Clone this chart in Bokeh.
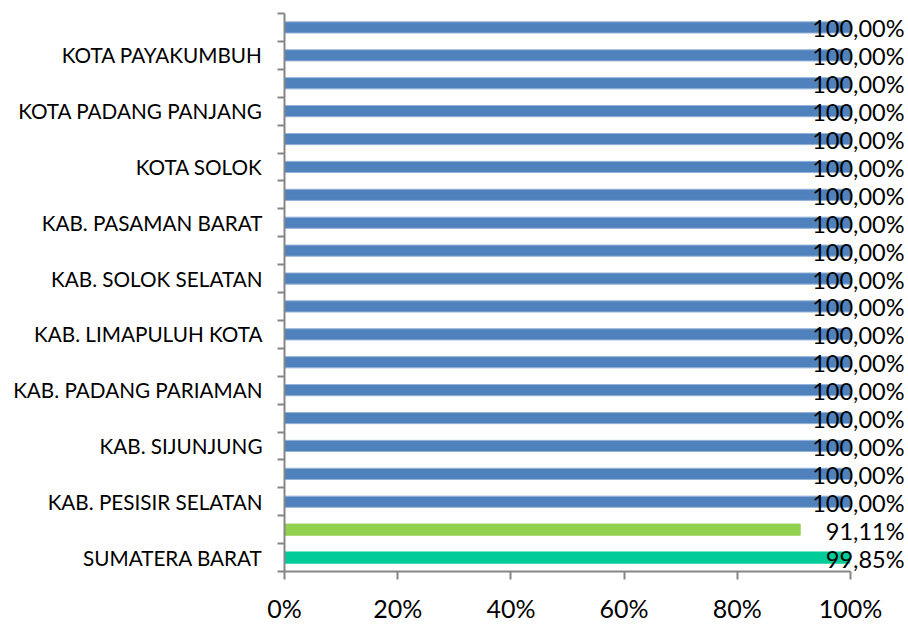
from bokeh.plotting import figure
from bokeh.models import ColumnDataSource, Range1d, FixedTicker, NumeralTickFormatter
from bokeh.core.properties import value
from bokeh.embed import file_html
from bokeh.resources import INLINE

# Data (bottom to top)
regions = [
    "SUMATERA BARAT", "KAB. KEPULAUAN MENTAWAI", "KAB. PESISIR SELATAN", "KAB. SOLOK",
    "KAB. SIJUNJUNG", "KAB. TANAH DATAR", "KAB. PADANG PARIAMAN", "KAB. AGAM",
    "KAB. LIMAPULUH KOTA", "KAB. PASAMAN", "KAB. SOLOK SELATAN", "KAB. DHARMASRAYA",
    "KAB. PASAMAN BARAT", "KOTA PADANG", "KOTA SOLOK", "KOTA SAWAHLUNTO",
    "KOTA PADANG PANJANG", "KOTA BUKITTINGGI", "KOTA PAYAKUMBUH", "KOTA PARIAMAN",
]
percent = [99.85, 91.11] + [100.0] * 18
bar_colors = ["#00CC99", "#92D050"] + ["#4F81BD"] * 18
line_colors = ["#00CC99", "#92D050"] + ["#95B3D7"] * 18
shown_label_index = list(range(0, 20, 2))
x_ticks = [0.0, 0.2, 0.4, 0.6, 0.8, 1.0]

FONT = "Lato"
n = len(regions)
ys = list(range(n))
fr = [v / 100.0 for v in percent]
x_end = (905 - 284) / 566

src = ColumnDataSource(dict(
    y=ys, x=fr, color=bar_colors, lc=line_colors,
    lab=[f"{v:.2f}".replace(".", ",") + "%" for v in percent],
    lx=[x_end] * n,
))

p = figure(width=908, height=625, output_backend="svg", toolbar_location=None,
           x_range=Range1d(0, x_end), y_range=Range1d(-0.5, n - 0.5),
           min_border_left=284, min_border_right=3, min_border_top=13, min_border_bottom=48)
p.outline_line_color = None
p.xgrid.grid_line_color = None
p.ygrid.grid_line_color = None

p.hbar(y="y", left=0, right="x", height=0.4, fill_color="color", line_color="lc",
       line_width=1, source=src)
p.text(x="lx", y="y", text="lab", source=src, text_align="right", text_baseline="middle",
       x_offset=-1, y_offset=1, text_font=value(FONT), text_font_size="23.5px",
       text_color="#000000")

# y axis
ya = p.yaxis[0]
ya.ticker = FixedTicker(ticks=[float(i) for i in shown_label_index],
                        minor_ticks=[i - 0.5 for i in range(n + 1)])
ya.major_label_overrides = {float(i): regions[i] for i in shown_label_index}
ya.major_tick_out = 0
ya.major_tick_in = 0
ya.minor_tick_out = 7
ya.minor_tick_in = 0
ya.minor_tick_line_color = "#868686"
ya.axis_line_color = "#868686"
ya.axis_line_width = 2
ya.minor_tick_line_width = 2
ya.major_label_standoff = 15
ya.major_label_text_font = FONT
ya.major_label_text_font_size = "20.7px"
ya.major_label_text_color = "#000000"

# x axis
xa = p.xaxis[0]
xa.ticker = FixedTicker(ticks=x_ticks, minor_ticks=[])
xa.formatter = NumeralTickFormatter(format="0%")
xa.bounds = (0, 1)
xa.axis_line_color = "#868686"
xa.axis_line_width = 2
xa.major_tick_line_color = "#868686"
xa.major_tick_line_width = 2
xa.major_tick_out = 8
xa.major_tick_in = 0
xa.minor_tick_line_color = None
xa.major_label_standoff = 13
xa.major_label_text_font = FONT
xa.major_label_text_font_size = "25px"
xa.major_label_text_color = "#000000"

open("out.html", "w").write(file_html(p, INLINE))
